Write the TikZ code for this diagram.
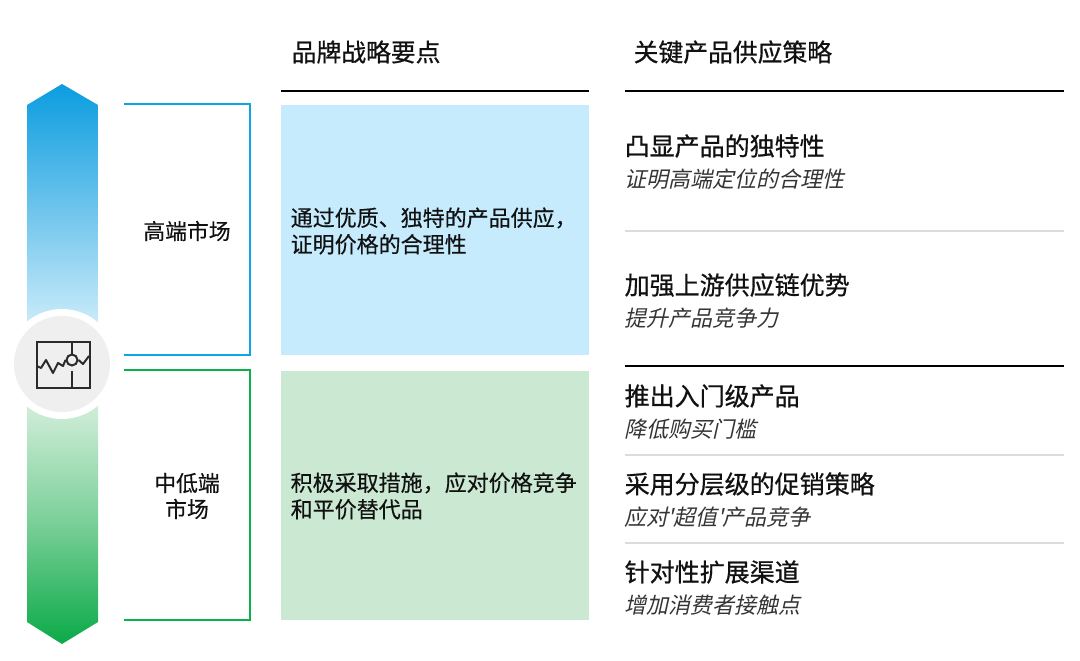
\documentclass[tikz,border=0pt]{standalone}
\usepackage{fontspec}
\setmainfont{Noto Sans CJK SC}
\newfontfamily\cjkit[FakeSlant=0.22]{Noto Sans CJK SC}
\newfontfamily\cjkmed[FakeBold=0.7]{Noto Sans CJK SC}
\newfontfamily\cjkbody[FakeBold=0.4]{Noto Sans CJK SC}
\definecolor{bluemain}{HTML}{0EA5E6}
\definecolor{bluetop}{HTML}{0B9DE0}
\definecolor{bluemid}{HTML}{6EC4EC}
\definecolor{bluepale}{HTML}{D3EFFB}
\definecolor{greenmain}{HTML}{0DB14B}
\definecolor{greenbot}{HTML}{0BAA48}
\definecolor{greenmid}{HTML}{7DD09A}
\definecolor{greenpale}{HTML}{D8F0DF}
\definecolor{boxblue}{HTML}{C5EBFD}
\definecolor{boxgreen}{HTML}{CBE8D3}
\definecolor{rulegray}{HTML}{DCDCDC}
\definecolor{circgray}{HTML}{EFEFEF}
\definecolor{inkdark}{HTML}{111111}
\definecolor{icondark}{HTML}{2B2B2B}
\tikzset{
  x=1pt,y=-1pt,
  titletxt/.style={anchor=west,inner sep=0pt,text=inkdark,font=\fontsize{24.8}{28}\cjkmed},
  headtxt/.style={anchor=west,inner sep=0pt,text=inkdark,font=\fontsize{25}{28}\cjkmed},
  subtxt/.style={anchor=west,inner sep=0pt,text=inkdark!85,font=\fontsize{22}{26}\cjkit},
  bodytxt/.style={anchor=west,inner sep=0pt,align=left,text=inkdark,font=\fontsize{22}{26.5}\cjkbody},
  mkttxt/.style={inner sep=0pt,align=center,text=inkdark,font=\fontsize{21.8}{26}\cjkbody},
  blackrule/.style={draw=black,line width=2pt},
  grayrule/.style={draw=rulegray,line width=1.6pt},
  bracket/.style={line width=2.8pt,line join=miter},
  iconline/.style={draw=icondark,line width=2pt,line join=round},
}
\begin{document}
\begin{tikzpicture}
\useasboundingbox (0,0) rectangle (1080,661);
% gradient arrow
\shade[top color=bluetop,bottom color=bluepale,middle color=bluemid]
  (62,84) -- (98,105) -- (98,335) -- (27,335) -- (27,105) -- cycle;
\shade[top color=greenpale,bottom color=greenbot,middle color=greenmid]
  (27,395) -- (98,395) -- (98,622) -- (62,644) -- (27,622) -- cycle;
\node[circle,fill=white,minimum size=110pt,inner sep=0pt] (halo) at (62,364) {};
\node[circle,fill=circgray,minimum size=96pt,inner sep=0pt] (disc) at (62,364) {};
% icon
\node[draw=icondark,line width=2pt,minimum width=53pt,minimum height=46pt,inner sep=0pt] (frame) at (63,365) {};
\node[circle,draw=icondark,line width=2pt,minimum size=11pt,inner sep=0pt] (dot) at (72,360) {};
\coordinate (stem) at (72,371);
\coordinate (edge) at (89,356);
\draw[iconline] (dot.north) -- (dot.north |- frame.north);
\draw[iconline] (stem) -- (stem |- frame.south);
\draw[iconline] (37,366) -- (41,368) -- (46,360) -- (53,373) -- (58,363) -- (63,366) -- (dot.west);
\draw[iconline] (dot.east) -- (83,364) -- (edge);
% brackets
\coordinate (bt) at (124,104); \coordinate (bc1) at (250,104); \coordinate (bc2) at (250,355); \coordinate (bb) at (124,355);
\coordinate (gt) at (124,370); \coordinate (gc1) at (250,370); \coordinate (gc2) at (250,620); \coordinate (gb) at (124,620);
\draw[bracket,draw=bluemain] (bt) -- (bc1) -- (bc2) -- (bb);
\draw[bracket,draw=greenmain] (gt) -- (gc1) -- (gc2) -- (gb);
\node[mkttxt] (high) at (187,231) {高端市场};
\node[mkttxt] (low) at (187,496) {中低端\\市场};
% boxes
\fill[boxblue] (281,105) rectangle (589,355);
\fill[boxgreen] (281,371) rectangle (589,620);
\node[bodytxt] (b1) at (290.5,231) {通过优质、独特的产品供应，\\证明价格的合理性};
\node[bodytxt] (b2) at (290.5,496) {积极采取措施，应对价格竞争\\和平价替代品};
% titles
\node[titletxt] (t1) at (291.5,52) {品牌战略要点};
\node[titletxt] (t2) at (633.5,52) {关键产品供应策略};
\draw[blackrule] (281,91) -- (589,91);
\draw[blackrule] (625,91) -- (1064,91);
\draw[blackrule,line width=1.6pt] (625,366) -- (1064,366);
\draw[grayrule] (625,231) -- (1064,231);
\draw[grayrule] (625,455) -- (1064,455);
\draw[grayrule] (625,543) -- (1064,543);
% right column
\node[headtxt] (h1) at (624.5,146) {凸显产品的独特性};
\node[subtxt] (s1) at (624,179) {证明高端定位的合理性};
\node[headtxt] (h2) at (624.5,285) {加强上游供应链优势};
\node[subtxt] (s2) at (624,318) {提升产品竞争力};
\node[headtxt] (h3) at (624.5,396) {推出入门级产品};
\node[subtxt] (s3) at (624,429) {降低购买门槛};
\node[headtxt] (h4) at (624.5,484) {采用分层级的促销策略};
\node[subtxt] (s4) at (624,517) {应对\kern-1pt'超值'\kern-1pt产品竞争};
\node[headtxt] (h5) at (624.5,572) {针对性扩展渠道};
\node[subtxt] (s5) at (624,605) {增加消费者接触点};
\end{tikzpicture}
\end{document}
